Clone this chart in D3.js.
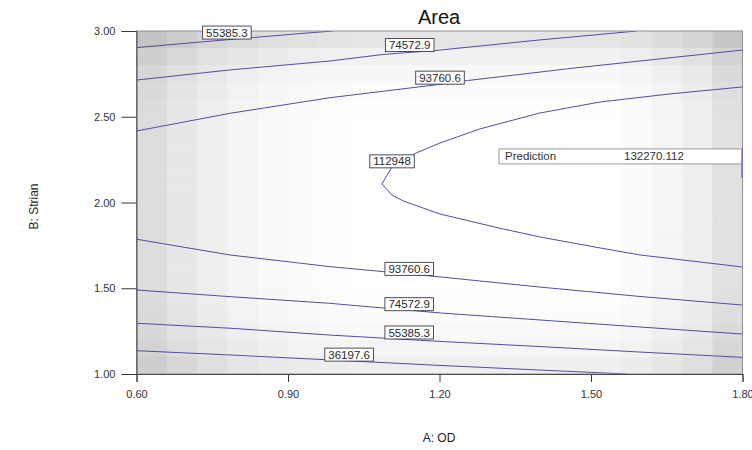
<!DOCTYPE html>
<html>
<head>
<meta charset="utf-8">
<script src="https://cdn.jsdelivr.net/npm/d3@7"></script>
<style>
  html, body { margin: 0; padding: 0; background: #ffffff; }
  svg { display: block; font-family: Arial, "Liberation Sans", sans-serif; }
</style>
</head>
<body>
<svg id="chart" width="752" height="450"></svg>
<script>
// Response surface for "Area": factor A (OD) against factor B (Strian)
const chartTitle = "Area";
const xTitle = "A: OD";
const yTitle = "B: Strian";
const xTicks = [0.60, 0.90, 1.20, 1.50, 1.80];
const yTicks = [1.00, 1.50, 2.00, 2.50, 3.00];

// Contour levels of the predicted Area
const levels = [36197.6, 55385.3, 74572.9, 93760.6, 112948];
const levelText = ["36197.6", "55385.3", "74572.9", "93760.6", "112948"];

// Traced contour lines, each point is [A: OD, B: Strian]
const c55385Upper = [[0.600, 2.903], [0.728, 2.936], [0.831, 2.962], [0.924, 2.985], [0.989, 3.000]];
const c74572Upper = [[0.600, 2.714], [0.785, 2.773], [0.983, 2.825], [1.088, 2.863], [1.201, 2.889], [1.399, 2.948], [1.591, 3.000]];
const c93760Upper = [[0.600, 2.417], [0.785, 2.520], [0.983, 2.611], [1.201, 2.689], [1.255, 2.711], [1.464, 2.783], [1.800, 2.889]];
const c112948 = [[1.800, 2.674], [1.656, 2.633], [1.518, 2.586], [1.399, 2.522], [1.280, 2.429], [1.201, 2.347],
                 [1.154, 2.289], [1.132, 2.254], [1.105, 2.203], [1.086, 2.108], [1.106, 2.044], [1.128, 2.009],
                 [1.201, 1.933], [1.318, 1.851], [1.399, 1.799], [1.518, 1.735], [1.597, 1.694], [1.716, 1.653], [1.800, 1.624]];
const c93760Lower = [[0.600, 1.786], [0.785, 1.694], [0.983, 1.626], [1.201, 1.566], [1.399, 1.507], [1.597, 1.452], [1.800, 1.402]];
const c74572Lower = [[0.600, 1.490], [0.785, 1.451], [0.983, 1.412], [1.201, 1.356], [1.399, 1.315], [1.597, 1.274], [1.800, 1.233]];
const c55385Lower = [[0.600, 1.296], [0.785, 1.267], [0.983, 1.227], [1.201, 1.190], [1.399, 1.160], [1.597, 1.128], [1.800, 1.097]];
const c36197 = [[0.600, 1.136], [0.785, 1.111], [0.983, 1.082], [1.201, 1.050], [1.399, 1.023], [1.571, 1.000]];

const contourLines = [
  { level: 1, points: c55385Upper },
  { level: 2, points: c74572Upper },
  { level: 3, points: c93760Upper },
  { level: 4, points: c112948 },
  { level: 3, points: c93760Lower },
  { level: 2, points: c74572Lower },
  { level: 1, points: c55385Lower },
  { level: 0, points: c36197 }
];

// Where each contour value is written, [A, B]
const labelLevel = [1, 2, 3, 4, 3, 2, 1, 0];
const labelSpot = [[0.779, 2.991], [1.141, 2.918], [1.201, 2.728], [1.106, 2.240],
                   [1.140, 1.613], [1.140, 1.407], [1.140, 1.242], [1.021, 1.113]];

// Flagged prediction
const predName = "Prediction";
const predValue = "132270.112";
const predPoint = [1.80, 2.225];

// ---------------------------------------------------------------------------
const svg = d3.select("#chart");
const margin = { left: 136.5, right: 742.5, top: 31, bottom: 374 };

const x = d3.scaleLinear().domain([0.6, 1.8]).range([margin.left, margin.right]);
const y = d3.scaleLinear().domain([1.0, 3.0]).range([margin.bottom, margin.top]);

// Graduated backdrop: darker toward the plot edges
const nCols = 20, nRows = 20;
const colShade = [34, 24, 16, 10, 6, 3, 1, 0, 0, 0, 0, 0, 0, 0, 0, 0, 3, 9, 16, 30];
const rowShade = [26, 14, 7, 3, 1, 0, 0, 0, 0, 0, 0, 0, 0, 0, 0, 1, 3, 6, 10, 16];
const cw = (margin.right - margin.left) / nCols;
const rh = (margin.bottom - margin.top) / nRows;
const cells = [];
for (let r = 0; r < nRows; r++) {
  for (let c = 0; c < nCols; c++) {
    const g = Math.max(196, 255 - colShade[c] - rowShade[r]);
    cells.push({ r, c, g });
  }
}
svg.append("g").selectAll("rect").data(cells).join("rect")
  .attr("x", d => margin.left + d.c * cw)
  .attr("y", d => margin.top + d.r * rh)
  .attr("width", cw + 0.5)
  .attr("height", rh + 0.5)
  .attr("fill", d => d3.rgb(d.g, d.g, d.g));

// Contour lines
const line = d3.line().x(d => x(d[0])).y(d => y(d[1]));
svg.append("clipPath").attr("id", "plotClip")
  .append("rect")
  .attr("x", margin.left).attr("y", margin.top)
  .attr("width", margin.right - margin.left).attr("height", margin.bottom - margin.top);

svg.append("g").attr("clip-path", "url(#plotClip)")
  .selectAll("path").data(contourLines).join("path")
  .attr("d", d => line(d.points))
  .attr("fill", "none")
  .attr("stroke", "#4e4ea6")
  .attr("stroke-width", 1);

// Plot frame
svg.append("rect")
  .attr("x", margin.left).attr("y", margin.top)
  .attr("width", margin.right - margin.left).attr("height", margin.bottom - margin.top)
  .attr("fill", "none").attr("stroke", "#8f8f8f").attr("stroke-width", 1);

// Contour value labels
const labelG = svg.append("g");
labelSpot.forEach((p, i) => {
  const g = labelG.append("g").attr("transform", `translate(${x(p[0])},${y(p[1])})`);
  const t = g.append("text")
    .attr("text-anchor", "middle")
    .attr("dy", "0.36em")
    .attr("font-size", 11.5)
    .attr("fill", "#2a2a2a")
    .text(levelText[labelLevel[i]]);
  const w = t.node().getComputedTextLength();
  g.insert("rect", "text")
    .attr("x", -w / 2 - 3.5).attr("y", -6.5)
    .attr("width", w + 7).attr("height", 13)
    .attr("fill", "#ffffff")
    .attr("stroke", "#3a3a4a").attr("stroke-width", 0.9);
});

// Prediction flag
const px = x(predPoint[0]), py = y(predPoint[1]);
const boxLeft = x(1.3178);
const flag = svg.append("g");
flag.append("rect")
  .attr("x", boxLeft).attr("y", py - 15)
  .attr("width", px - boxLeft).attr("height", 15)
  .attr("fill", "#ffffff").attr("stroke", "#9a9a9a").attr("stroke-width", 1);
flag.append("text")
  .attr("x", boxLeft + 6).attr("y", py - 3.5)
  .attr("font-size", 11.5).attr("fill", "#333")
  .text(predName);
flag.append("text")
  .attr("x", boxLeft + 125).attr("y", py - 3.5)
  .attr("font-size", 11.5).attr("fill", "#333")
  .text(predValue);
flag.append("line")
  .attr("x1", px - 0.5).attr("x2", px - 0.5)
  .attr("y1", py - 15).attr("y2", py + 14)
  .attr("stroke", "#5a5ad0").attr("stroke-width", 1.2);

// Axes
const fmt = d3.format(".2f");
const xAxis = svg.append("g")
  .attr("transform", `translate(0,${margin.bottom})`)
  .call(d3.axisBottom(x).tickValues(xTicks).tickFormat(fmt).tickSize(8).tickPadding(8));
const yAxis = svg.append("g")
  .attr("transform", `translate(${margin.left},0)`)
  .call(d3.axisLeft(y).tickValues(yTicks).tickFormat(fmt).tickSize(15).tickPadding(6));
[xAxis, yAxis].forEach(a => {
  a.selectAll("path.domain").attr("stroke", "#4a4a4a");
  a.selectAll(".tick line").attr("stroke", "#3a3a3a");
  a.selectAll(".tick text").attr("font-size", 11).attr("fill", "#333")
    .attr("font-family", "Arial, 'Liberation Sans', sans-serif");
});

// Titles
svg.append("text")
  .attr("x", 439).attr("y", 24)
  .attr("text-anchor", "middle")
  .attr("font-size", 20).attr("fill", "#111")
  .text(chartTitle);
svg.append("text")
  .attr("x", 439).attr("y", 442)
  .attr("text-anchor", "middle")
  .attr("font-size", 12).attr("fill", "#222")
  .text(xTitle);
svg.append("text")
  .attr("transform", `translate(38,${(margin.top + margin.bottom) / 2 + 4}) rotate(-90)`)
  .attr("text-anchor", "middle")
  .attr("font-size", 12).attr("fill", "#222")
  .text(yTitle);
</script>
</body>
</html>
